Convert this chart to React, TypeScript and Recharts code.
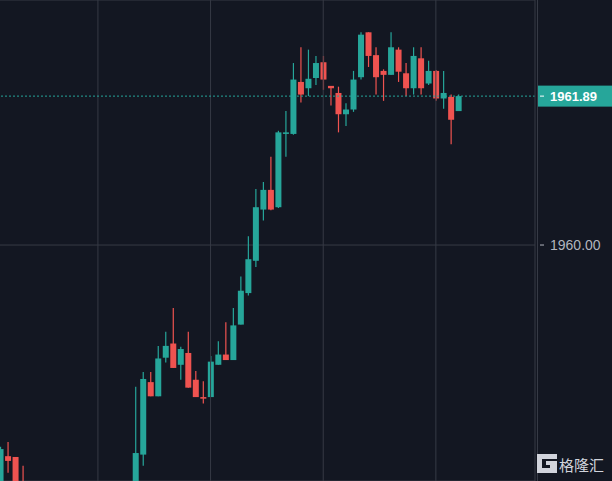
import React from 'react';
import { ComposedChart, Bar, XAxis, YAxis, CartesianGrid, ReferenceLine } from 'recharts';

// OHLC per bar (index = bar position from the left edge)
const opens = [
  1956.60, 1957.32, 1957.31, 1956.75, 1956.30, 1956.05, 1955.85, 1956.00, 1955.75, 1955.80,
  1956.00, 1956.20, 1956.10, 1956.25, 1956.40, 1956.30, 1956.45, 1956.60, 1956.50, 1957.34,
  1958.26, 1958.08, 1958.57, 1958.75, 1958.48, 1958.63, 1958.29, 1958.07, 1958.07, 1958.48,
  1958.61, 1958.54, 1958.99, 1959.39, 1959.80, 1960.45, 1960.70, 1960.48, 1961.41, 1961.41,
  1962.07, 1961.99, 1962.12, 1962.32, 1962.02, 1961.93, 1961.66, 1961.72, 1962.13, 1962.70,
  1962.41, 1962.21, 1962.16, 1962.48, 1962.18, 1961.99, 1962.37, 1962.05, 1962.21, 1961.86,
  1961.88, 1961.70,
];
const highs = [
  1957.44, 1957.50, 1957.31, 1957.20, 1956.45, 1956.20, 1956.10, 1956.15, 1955.95, 1956.10,
  1956.30, 1956.40, 1956.35, 1956.50, 1956.60, 1956.55, 1956.70, 1956.80, 1958.20, 1958.39,
  1958.39, 1958.72, 1958.90, 1959.20, 1958.71, 1958.90, 1958.40, 1958.27, 1958.59, 1958.78,
  1959.02, 1959.20, 1959.60, 1960.11, 1960.71, 1960.80, 1961.12, 1961.45, 1961.70, 1962.31,
  1962.51, 1962.48, 1962.40, 1962.40, 1962.02, 1962.01, 1961.80, 1962.21, 1962.70, 1962.70,
  1962.51, 1962.23, 1962.70, 1962.51, 1962.31, 1962.51, 1962.51, 1962.34, 1962.22, 1962.21,
  1961.91, 1961.91,
];
const lows = [
  1956.50, 1957.11, 1956.60, 1956.20, 1955.90, 1955.70, 1955.60, 1955.65, 1955.50, 1955.70,
  1955.90, 1956.00, 1955.95, 1956.10, 1956.20, 1956.15, 1956.30, 1956.40, 1956.40, 1957.20,
  1958.08, 1958.08, 1958.51, 1958.44, 1958.29, 1958.19, 1958.07, 1957.99, 1958.07, 1958.48,
  1958.54, 1958.54, 1958.99, 1959.36, 1959.72, 1960.31, 1960.44, 1960.47, 1961.12, 1961.40,
  1961.81, 1961.89, 1962.03, 1961.97, 1961.77, 1961.43, 1961.51, 1961.69, 1962.10, 1962.26,
  1961.91, 1961.83, 1962.16, 1962.07, 1961.89, 1961.91, 1961.91, 1962.03, 1961.83, 1961.73,
  1961.28, 1961.70,
];
const closes = [
  1957.41, 1957.26, 1956.70, 1956.30, 1956.05, 1955.85, 1956.00, 1955.75, 1955.80, 1956.00,
  1956.20, 1956.10, 1956.25, 1956.40, 1956.30, 1956.45, 1956.60, 1956.50, 1957.36, 1958.30,
  1958.08, 1958.56, 1958.72, 1958.44, 1958.68, 1958.19, 1958.07, 1958.05, 1958.52, 1958.61,
  1958.54, 1958.98, 1959.42, 1959.82, 1960.48, 1960.70, 1960.45, 1961.43, 1961.43, 1962.10,
  1961.91, 1962.11, 1962.31, 1962.10, 1961.99, 1961.66, 1961.72, 1962.10, 1962.67, 1962.40,
  1962.13, 1962.16, 1962.51, 1962.20, 1961.99, 1962.40, 1961.99, 1962.21, 1961.86, 1961.93,
  1961.59, 1961.89,
];

const timeGridBars = [13, 28, 43, 58];
const priceTicks = [1960];

const UP = '#26a69a';
const DOWN = '#ef5350';
const BG = '#131722';
const GRID = '#363a45';
const AXIS_TEXT = '#b2b5be';
const FONT = '"Liberation Sans", Arial, sans-serif';

const data = opens.map((open, i) => ({
  i,
  open,
  high: highs[i],
  low: lows[i],
  close: closes[i],
}));
const lastClose = closes[closes.length - 1];

function Candle(props: any) {
  const { x, y, width, height, payload } = props;
  if (x == null || y == null || !payload) return null;
  const top = Math.min(y, y + height);
  const span = Math.abs(height);
  const { open, close, high, low } = payload;
  const range = high - low;
  const toY = (v: number) => (range > 0 ? top + ((high - v) / range) * span : top);
  const color = close >= open ? UP : DOWN;
  const bodyTop = toY(Math.max(open, close));
  const bodyBottom = toY(Math.min(open, close));
  const cx = x + width / 2;
  return (
    <g>
      <line x1={cx} x2={cx} y1={top} y2={top + span} stroke={color} strokeWidth={1.2} />
      <rect x={x} y={bodyTop} width={width} height={Math.max(1, bodyBottom - bodyTop)} fill={color} />
    </g>
  );
}

function PriceTick({ x, y, payload }: any) {
  return (
    <g>
      <line x1={x + 5} x2={x + 9} y1={y} y2={y} stroke={AXIS_TEXT} />
      <text x={x + 15} y={y} dy={5} fill={AXIS_TEXT} fontSize={14} fontFamily={FONT}>
        {Number(payload.value).toFixed(2)}
      </text>
    </g>
  );
}

function LastPriceLabel({ viewBox }: any) {
  if (!viewBox) return null;
  const left = viewBox.x + viewBox.width + 2;
  const y = viewBox.y;
  return (
    <g>
      <rect x={left} y={y - 10.5} width={80} height={21} fill={UP} />
      <line x1={left + 3} x2={left + 7} y1={y} y2={y} stroke="#ffffff" />
      <text x={left + 13} y={y} dy={4.5} fill="#ffffff" fontSize={13} fontWeight="bold" fontFamily={FONT}>
        {lastClose.toFixed(2)}
      </text>
    </g>
  );
}

export default function App() {
  return (
    <div style={{ position: 'fixed', left: 0, top: 0, width: 612, height: 481, background: BG, overflow: 'hidden' }}>
      <ComposedChart width={612} height={481} data={data} margin={{ top: 0, right: 0, bottom: 0, left: 0 }}>
        <CartesianGrid stroke={GRID} vertical={false} />
        <XAxis dataKey="i" type="number" domain={[-0.04, 71.2]} allowDataOverflow hide />
        <YAxis
          orientation="right"
          width={77}
          domain={[1957.005, 1963.11]}
          allowDataOverflow
          ticks={priceTicks}
          tickSize={0}
          tickMargin={0}
          tickLine={false}
          axisLine={{ stroke: GRID }}
          tick={<PriceTick />}
        />
        {timeGridBars.map((t) => (
          <ReferenceLine key={t} x={t} stroke={GRID} />
        ))}
        <Bar
          dataKey={(d: any) => [d.low, d.high]}
          barSize={6}
          shape={(p: any) => <Candle {...p} />}
          isAnimationActive={false}
        />
        <ReferenceLine
          y={lastClose}
          stroke={UP}
          strokeDasharray="2 2"
          label={<LastPriceLabel />}
        />
      </ComposedChart>
      <div style={{ position: 'absolute', left: 537, top: 0, width: 1, height: 481, background: GRID }} />
      <svg style={{ position: 'absolute', left: 537, top: 453 }} width={72} height={24}>
        <path d="M0,1 H20 V6 H5 V15 H13 V12 H9 V8 H20 V20 H0 Z" fill="#d1d4dc" />
        <text x={22} y={18} fontSize={15} fill="#d1d4dc" fontFamily='"Noto Sans CJK SC", sans-serif'>
          格隆汇
        </text>
      </svg>
    </div>
  );
}
